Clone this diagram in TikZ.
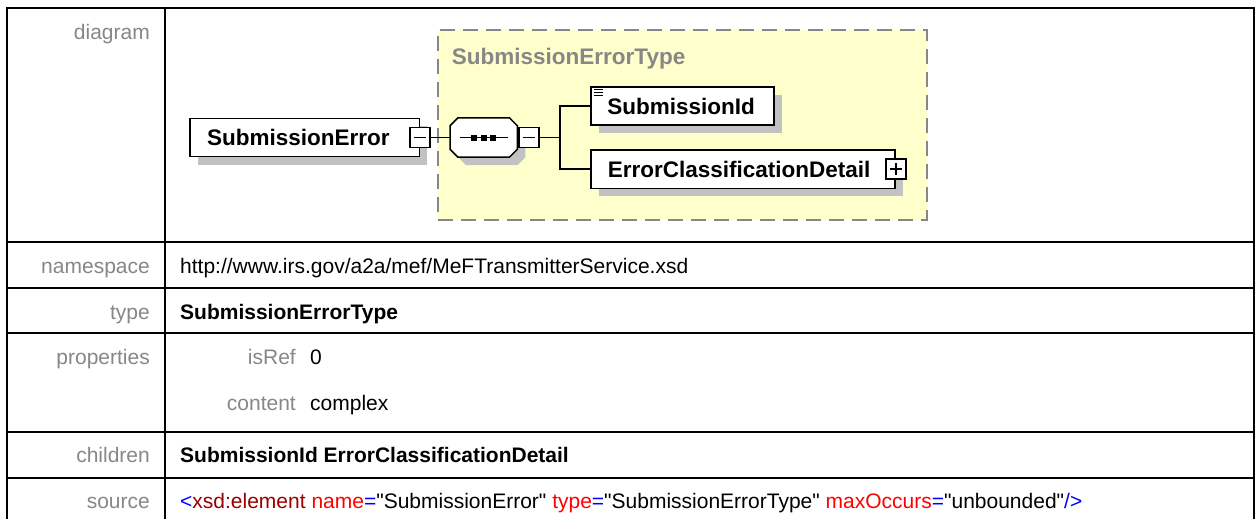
\documentclass[tikz,border=0pt]{standalone}
\usepackage{fontspec}
\setmainfont{Liberation Sans}
\newfontfamily\srcfont{Liberation Sans}[Ligatures=TeXOff]
\usepackage{tikz}
\usetikzlibrary{positioning, shadows}
\definecolor{typeyellow}{rgb}{1, 1, 0.8}
\definecolor{labelgray}{rgb}{0.53, 0.53, 0.53}
\definecolor{shadowgray}{rgb}{0.76, 0.76, 0.76}
\definecolor{xmlblue}{rgb}{0, 0, 1}
\definecolor{xmlred}{rgb}{1, 0, 0}
\definecolor{xmldarkred}{rgb}{0.6, 0, 0}

\begin{document}
\begin{tikzpicture}[x=1pt, y=-1pt,
	rowlabel/.style={anchor=base east, text=labelgray, inner sep=0pt, font=\fontsize{21}{24}\selectfont},
	rowvalue/.style={anchor=base west, inner sep=0pt, font=\fontsize{21}{24}\selectfont},
	boxshadow/.style={drop shadow={shadow xshift=8pt, shadow yshift=-8pt, fill=shadowgray, opacity=1}},
	elembox/.style={draw, fill=white, line width=1.5pt, inner xsep=17pt, inner ysep=0pt, minimum height=38.4pt, align=left, text height=16pt, text depth=0pt, font=\fontsize{22.5}{26}\bfseries\selectfont, boxshadow},
	togglebox/.style={draw, fill=white, line width=1.5pt, minimum size=20pt, inner sep=0pt},
	]
	\useasboundingbox (0,0) rectangle (1255,519);
	\fill[white] (0,0) rectangle (1255,519);
	% table
	\draw[line width=2pt] (6.7,519) -- (6.7,8.3) -- (1254,8.3) -- (1254,519);
	\draw[line width=2pt] (165,8.3) -- (165,519);
	\foreach \y in {241.7,287.7,333.3,431.7,477.7}
		\draw[line width=2pt] (6.7,\y) -- (1254,\y);
	\foreach \name/\y in {diagram/39.5, namespace/273, type/319, properties/364, children/462.5, source/508.5}
		\node[rowlabel] (lbl-\name) at (150,\y) {\name};
	\node[rowlabel] (lbl-isref) at (296,364) {isRef};
	\node[rowlabel] (lbl-content) at (296,410.5) {content};
	\node[rowvalue] (val-namespace) at (180,273) {http://www.irs.gov/a2a/mef/MeFTransmitterService.xsd};
	\node[rowvalue] (val-type) at (180,319) {\bfseries SubmissionErrorType};
	\node[rowvalue] (val-isref) at (310,364) {0};
	\node[rowvalue] (val-content) at (310,410.5) {complex};
	\node[rowvalue] (val-children) at (180,462.5) {\bfseries SubmissionId ErrorClassificationDetail};
	\node[rowvalue] (val-source) at (180,508.5) {\srcfont{\color{xmlblue}<}{\color{xmldarkred}xsd:element} {\color{xmlred}name}{\color{xmlblue}=}"SubmissionError" {\color{xmlred}type}{\color{xmlblue}=}"SubmissionErrorType" {\color{xmlred}maxOccurs}{\color{xmlblue}=}"unbounded"{\color{xmlblue}/>}};
	% diagram
	\node[draw=labelgray, fill=typeyellow, line width=2pt, dash pattern=on 15pt off 8pt, minimum width=488.4pt, minimum height=190pt, inner sep=0pt] (settype) at (682.5,125) {};
	\node[anchor=base west, inner sep=0pt, text=labelgray, font=\fontsize{22.5}{26}\bfseries\selectfont] (settitle) at (451.7,64) {SubmissionErrorType};
	\node[elembox, text width=195.4pt, anchor=west] (se) at (189.3,137.5) {SubmissionError};
	\node[togglebox] (sem) at (se.east) {};
	\draw[line width=1.5pt] ([xshift=-6pt]sem.center) -- ([xshift=6pt]sem.center);
	\node[minimum width=67pt, minimum height=39pt, inner sep=0pt] (seq) at (483.7,137.5) {};
	\draw[line width=1.5pt, fill=white, boxshadow] ([xshift=8pt]seq.north west) -- ([xshift=-8pt]seq.north east) -- ([yshift=-8pt]seq.north east) -- ([yshift=8pt]seq.south east) -- ([xshift=-8pt]seq.south east) -- ([xshift=8pt]seq.south west) -- ([yshift=8pt]seq.south west) -- ([yshift=-8pt]seq.north west) -- cycle;
	\draw[line width=1.5pt] ([xshift=10pt]seq.west) -- ([xshift=-9pt]seq.east);
	\foreach \dx in {-9.5,0,9.5}
		\fill ([xshift=\dx pt]seq.center) +(-3,-3) rectangle +(3,3);
	\node[togglebox, right=1pt of seq] (seqm) {};
	\draw[line width=1.5pt] ([xshift=-6pt]seqm.center) -- ([xshift=6pt]seqm.center);
	\draw[line width=1.5pt] (sem) -- (seq);
	\coordinate (fork) at (560,137.5);
	\draw[line width=1.5pt] (seqm) -- (fork);
	\node[elembox, text width=150pt, inner xsep=16.5pt, anchor=west] (sid) at (590,106) {SubmissionId};
	\foreach \dy in {89.5,92.5,95.5}
		\draw[line width=1pt] (593.5,\dy) -- (602.5,\dy);
	\node[elembox, text width=270.3pt, anchor=west] (ecd) at (590,169.2) {ErrorClassificationDetail};
	\node[togglebox] (ecdp) at (ecd.east) {};
	\draw[line width=1.5pt] ([xshift=-6pt]ecdp.center) -- ([xshift=6pt]ecdp.center);
	\draw[line width=1.5pt] ([yshift=-6pt]ecdp.center) -- ([yshift=6pt]ecdp.center);
	\draw[line width=1.5pt] (sid.west) -| (fork) |- (ecd.west);
\end{tikzpicture}
\end{document}
